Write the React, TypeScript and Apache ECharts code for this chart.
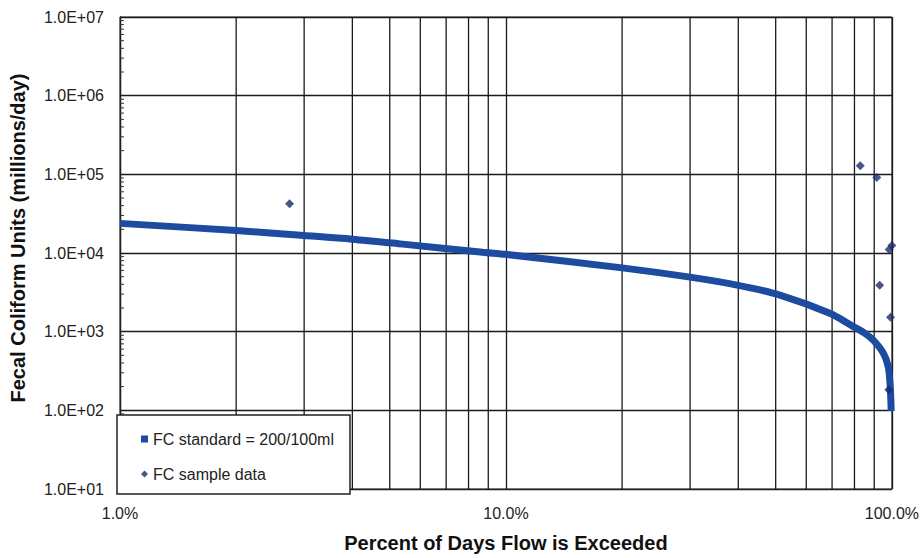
import React, { useEffect, useRef } from "react";
import * as echarts from "echarts";

// Load duration curve (FC standard = 200/100ml)
const curvePct = [1, 2, 3, 4, 5.4, 8.7, 10, 20, 30, 40, 51.5, 69.3, 79.5, 85, 89.5, 95, 97.8, 99, 99.6];
const curveLoad = [23800, 19300, 16700, 15000, 12970, 10200, 9600, 6470, 4930, 3880, 2900, 1700, 1160, 960, 780, 535, 364, 204, 98];

// FC sample data
const samplePct = [2.75, 82.8, 91.4, 98.4, 100, 93, 99.2, 98.2];
const sampleLoad = [42200, 129000, 91400, 11100, 12500, 3880, 1520, 182];

// Minor grid positions (x) and minor tick positions (y)
const xMinorGrid = [2, 3, 4, 5, 6, 7, 8, 9, 20, 30, 40, 50, 60, 70, 80, 90];
const yMinorTicks: number[] = [];
[10, 100, 1000, 10000, 100000, 1000000].forEach((d) => {
  for (let k = 2; k <= 9; k++) yMinorTicks.push(d * k);
});

const seriesNames = ["FC standard = 200/100ml", "FC sample data"];
const FONT = "'Liberation Sans', Arial, sans-serif";

export default function App() {
  const ref = useRef<HTMLDivElement>(null);
  useEffect(() => {
    document.body.style.margin = "0";
    const chart = echarts.init(ref.current!, null, { renderer: "svg" });
    const curveData = curvePct.map((p, i) => [p, curveLoad[i]]);
    const sampleData = samplePct.map((p, i) => [p, sampleLoad[i]]);
    chart.setOption({
      animation: false,
      backgroundColor: "#ffffff",
      grid: { left: 117, right: 30, top: 17, bottom: 64, show: true, borderColor: "#333", borderWidth: 1 },
      xAxis: {
        type: "log",
        logBase: 10,
        min: 1,
        max: 100,
        name: "Percent of Days Flow is Exceeded",
        nameLocation: "middle",
        nameGap: 44,
        nameTextStyle: { fontFamily: FONT, fontSize: 20, fontWeight: "bold", color: "#111" },
        axisLine: { lineStyle: { color: "#222", width: 1 } },
        axisTick: { show: false },
        axisLabel: {
          fontFamily: FONT,
          fontSize: 16,
          color: "#222",
          margin: 16,
          formatter: (v: number) => v.toFixed(1) + "%",
        },
        splitLine: { show: true, lineStyle: { color: "#1a1a1a", width: 1.3 } },
      },
      yAxis: {
        type: "log",
        logBase: 10,
        min: 10,
        max: 10000000,
        name: "Fecal Coliform Units (millions/day)",
        nameLocation: "middle",
        nameGap: 92,
        nameTextStyle: { fontFamily: FONT, fontSize: 20, fontWeight: "bold", color: "#111", padding: [0, 0, 0, 30] },
        axisLine: { show: true, lineStyle: { color: "#222", width: 1.3 } },
        axisTick: { show: false },
        axisLabel: {
          fontFamily: FONT,
          fontSize: 16,
          color: "#222",
          margin: 16,
          formatter: (v: number) => {
            const e = Math.round(Math.log10(v));
            return "1.0E+" + String(e).padStart(2, "0");
          },
        },
        splitLine: { show: true, lineStyle: { color: "#1a1a1a", width: 1.3 } },
      },
      legend: {
        orient: "vertical",
        left: 136,
        top: 426,
        itemWidth: 7,
        itemHeight: 7,
        itemGap: 19,
        z: 11,
        textStyle: { fontFamily: FONT, fontSize: 16, color: "#222" },
        data: [
          { name: seriesNames[0], icon: "rect" },
          { name: seriesNames[1], icon: "diamond" },
        ],
      },
      graphic: [
        {
          type: "rect",
          z: 10,
          shape: { x: 117, y: 415, width: 233, height: 79 },
          style: { fill: "#fff", stroke: "#222", lineWidth: 1.5 },
        },
      ],
      series: [
        {
          type: "custom",
          name: "grid-minor",
          silent: true,
          z: 1,
          data: xMinorGrid.map((x) => [x]),
          renderItem: (params: any, api: any) => {
            const x = api.value(0);
            const p1 = api.coord([x, 10]);
            const p2 = api.coord([x, 10000000]);
            return {
              type: "line",
              shape: { x1: p1[0], y1: p1[1], x2: p2[0], y2: p2[1] },
              style: { stroke: "#1a1a1a", lineWidth: 1.3 },
            };
          },
        },
        {
          type: "custom",
          name: "y-minor-ticks",
          silent: true,
          z: 1,
          data: yMinorTicks.map((v) => [1, v]),
          renderItem: (params: any, api: any) => {
            const p = api.coord([1, api.value(1)]);
            return {
              type: "line",
              shape: { x1: p[0], y1: p[1], x2: p[0] + 4, y2: p[1] },
              style: { stroke: "#333", lineWidth: 1 },
            };
          },
        },
        {
          type: "line",
          name: seriesNames[0],
          data: curveData,
          symbol: "none",
          smooth: 0.3,
          z: 3,
          itemStyle: { color: "#1c4ba0" },
          lineStyle: { color: "#1c4ba0", width: 7 },
        },
        {
          type: "scatter",
          name: seriesNames[1],
          data: sampleData,
          symbol: "diamond",
          symbolSize: 9,
          z: 4,
          itemStyle: { color: "#1b2b6b" },
        },
      ],
    });
    return () => chart.dispose();
  }, []);
  return <div ref={ref} style={{ width: 922, height: 558 }} />;
}
